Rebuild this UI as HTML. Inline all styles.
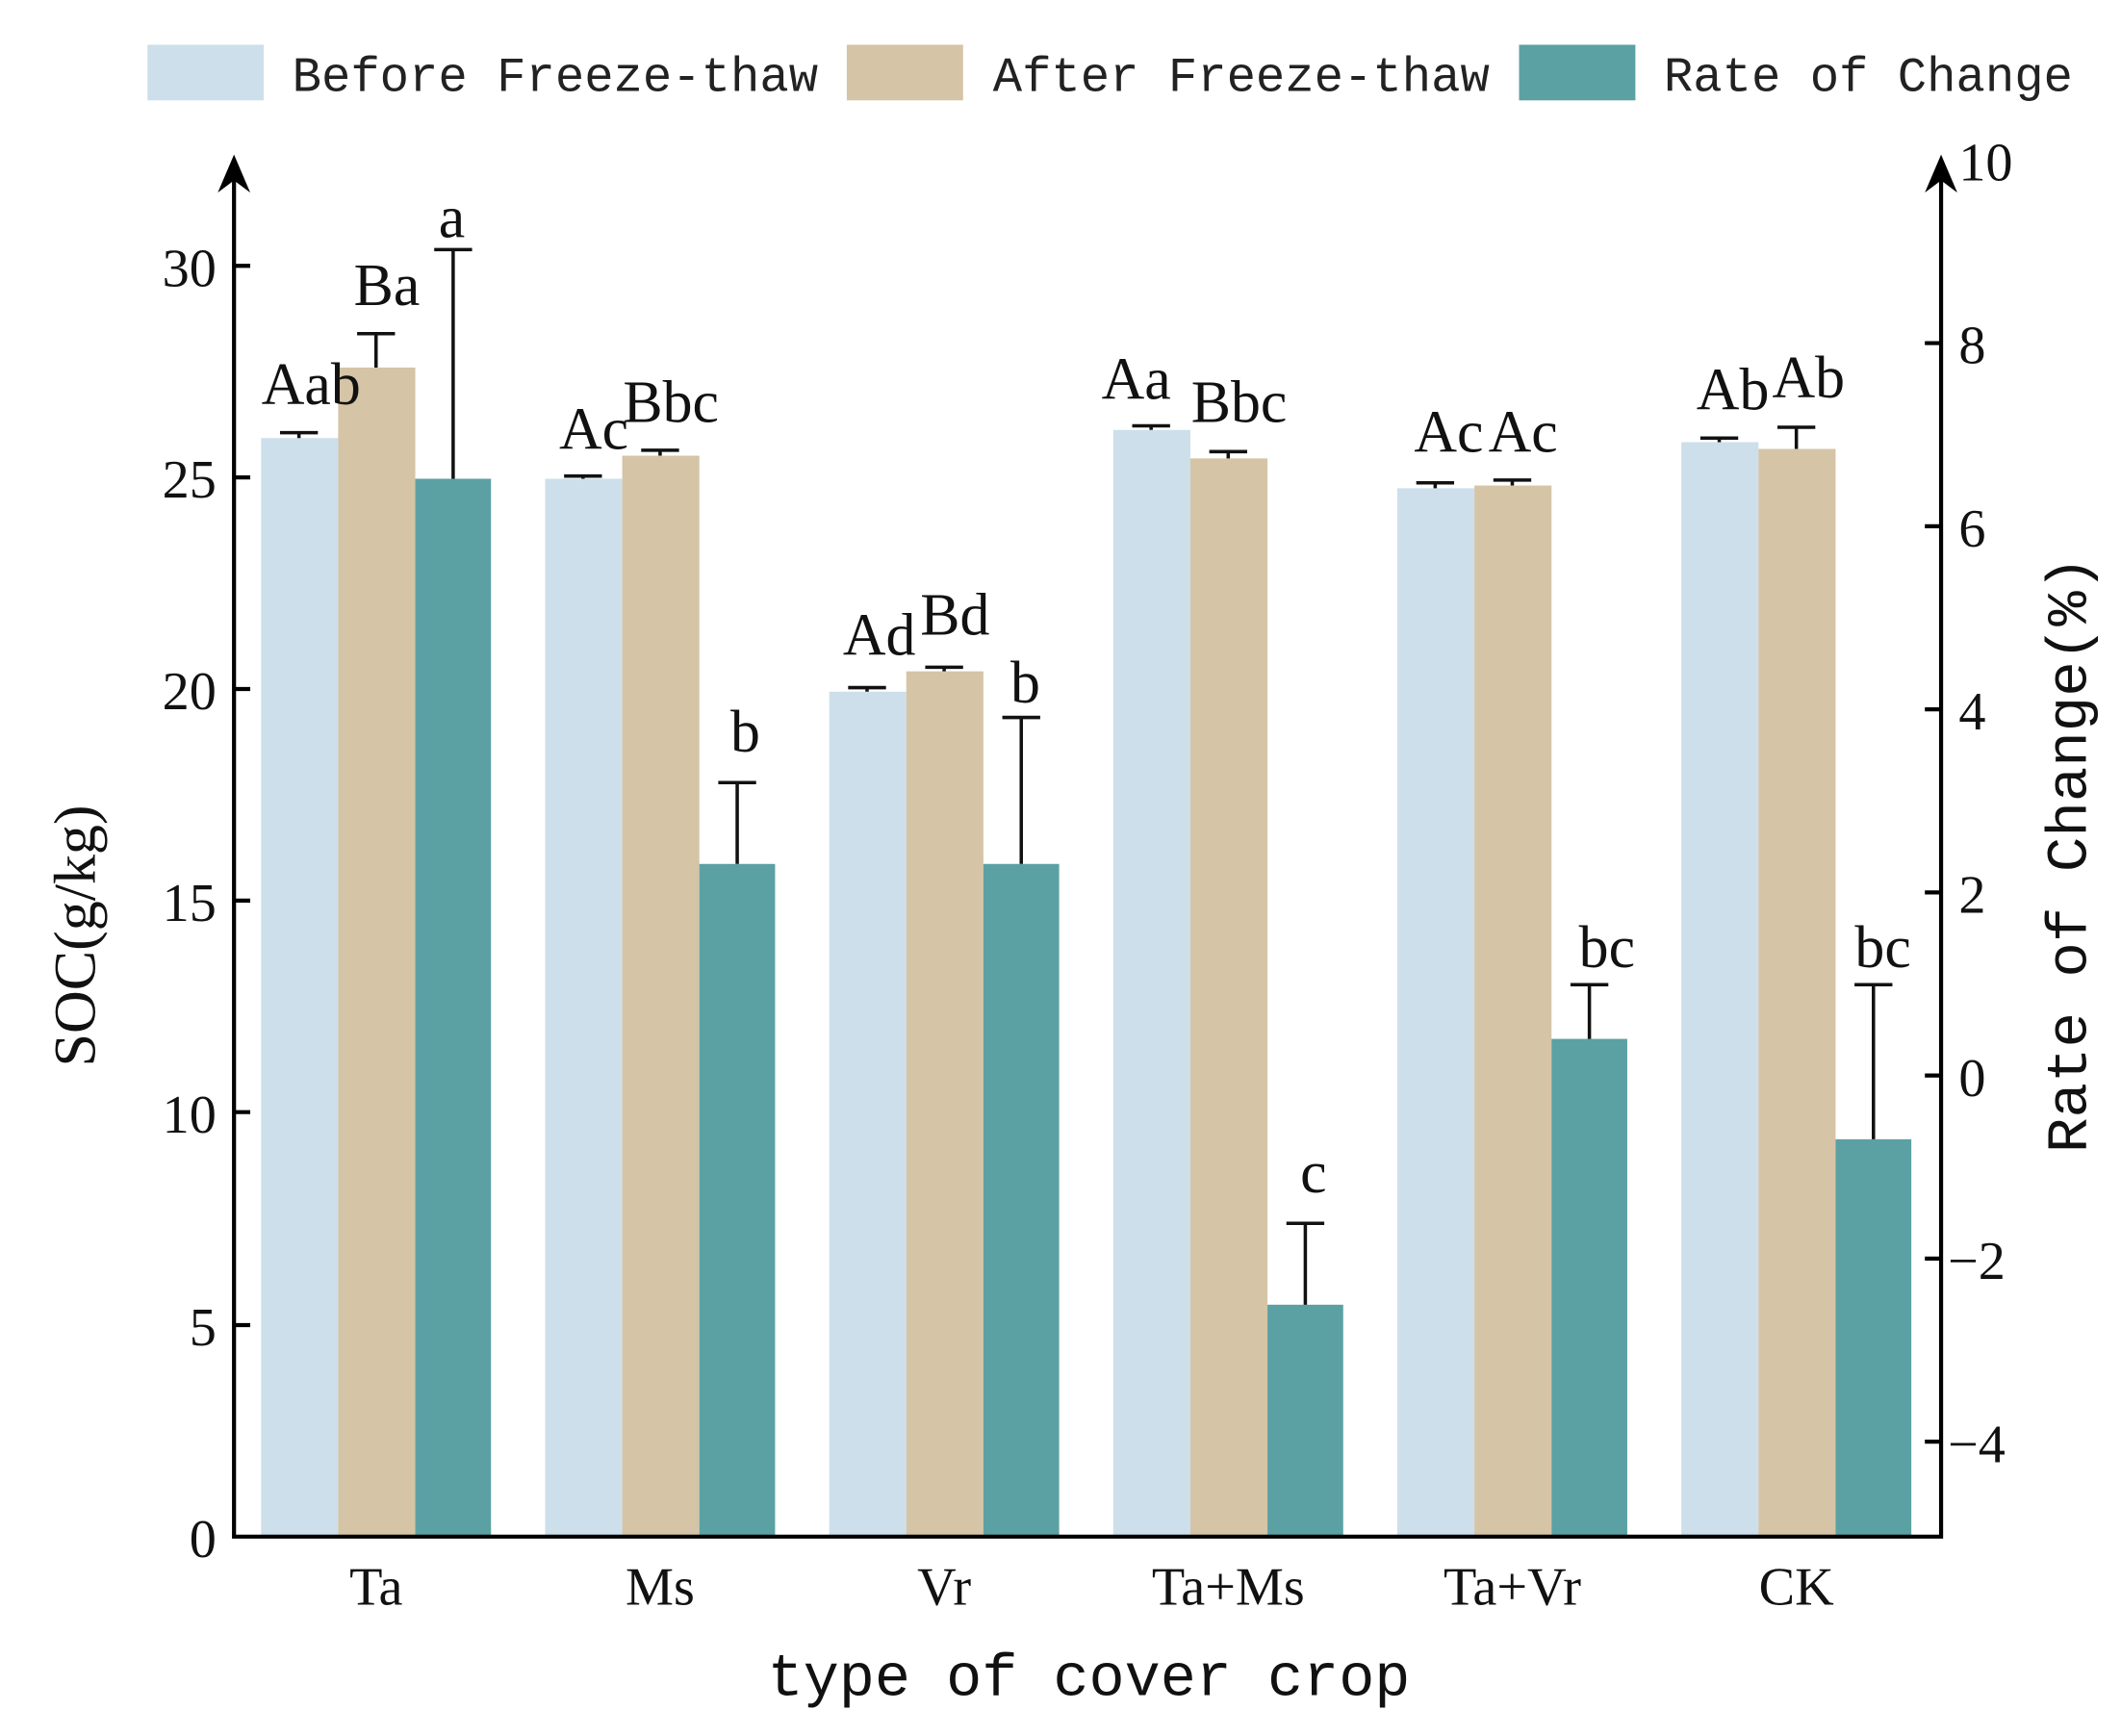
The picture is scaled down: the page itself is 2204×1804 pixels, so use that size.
<!DOCTYPE html>
<html><head><style>html,body{margin:0;padding:0;background:#fff}svg{display:block}</style></head>
<body>
<svg width="2204" height="1804" viewBox="0 0 1568 1280" preserveAspectRatio="none" xmlns="http://www.w3.org/2000/svg">
<rect width="1568" height="1280" fill="#fff"/>
<rect x="109" y="33" width="86" height="41" fill="#cddfea"/>
<rect x="626" y="33" width="86" height="41" fill="#d5c4a6"/>
<rect x="1123" y="33" width="86" height="41" fill="#5ba1a3"/>
<g font-family="Liberation Mono, monospace" font-size="36" fill="#222">
<text x="216" y="67">Before Freeze-thaw</text>
<text x="734" y="67">After Freeze-thaw</text>
<text x="1230" y="67">Rate of Change</text>
</g>
<g>
<rect x="193" y="323" width="57" height="810" fill="#cddfea"/>
<rect x="250" y="271" width="57" height="862" fill="#d5c4a6"/>
<rect x="307" y="353" width="56" height="780" fill="#5ba1a3"/>
<rect x="403" y="353" width="57" height="780" fill="#cddfea"/>
<rect x="460" y="336" width="57" height="797" fill="#d5c4a6"/>
<rect x="517" y="637" width="56" height="496" fill="#5ba1a3"/>
<rect x="613" y="510" width="57" height="623" fill="#cddfea"/>
<rect x="670" y="495" width="57" height="638" fill="#d5c4a6"/>
<rect x="727" y="637" width="56" height="496" fill="#5ba1a3"/>
<rect x="823" y="317" width="57" height="816" fill="#cddfea"/>
<rect x="880" y="338" width="57" height="795" fill="#d5c4a6"/>
<rect x="937" y="962" width="56" height="171" fill="#5ba1a3"/>
<rect x="1033" y="360" width="57" height="773" fill="#cddfea"/>
<rect x="1090" y="358" width="57" height="775" fill="#d5c4a6"/>
<rect x="1147" y="766" width="56" height="367" fill="#5ba1a3"/>
<rect x="1243" y="326" width="57" height="807" fill="#cddfea"/>
<rect x="1300" y="331" width="57" height="802" fill="#d5c4a6"/>
<rect x="1357" y="840" width="56" height="293" fill="#5ba1a3"/>
</g>
<g stroke="#111" stroke-width="2.5" fill="none">
<path d="M221 323V319M207 319H235"/>
<path d="M278 271V246M264 246H292"/>
<path d="M335 353V184M321 184H349"/>
<path d="M431 353V351M417 351H445"/>
<path d="M488 336V332M474 332H502"/>
<path d="M545 637V577M531 577H559"/>
<path d="M641 510V507M627 507H655"/>
<path d="M698 495V492M684 492H712"/>
<path d="M755 637V529M741 529H769"/>
<path d="M851 317V314M837 314H865"/>
<path d="M908 338V333M894 333H922"/>
<path d="M965 962V902M951 902H979"/>
<path d="M1061 360V356M1047 356H1075"/>
<path d="M1118 358V354M1104 354H1132"/>
<path d="M1175 766V726M1161 726H1189"/>
<path d="M1271 326V323M1257 323H1285"/>
<path d="M1328 331V315M1314 315H1342"/>
<path d="M1385 840V726M1371 726H1399"/>
</g>
<g font-family="Liberation Serif, serif" font-size="44" fill="#111" text-anchor="middle">
<text x="230" y="298">Aab</text><text x="286" y="225">Ba</text><text x="334" y="175">a</text>
<text x="439" y="331">Ac</text><text x="496" y="311">Bbc</text><text x="551" y="554">b</text>
<text x="650" y="483">Ad</text><text x="706" y="468">Bd</text><text x="758" y="518">b</text>
<text x="840" y="294">Aa</text><text x="916" y="311">Bbc</text><text x="971" y="879">c</text>
<text x="1071" y="333">Ac</text><text x="1126" y="333">Ac</text><text x="1188" y="713">bc</text>
<text x="1281" y="302">Ab</text><text x="1337" y="293">Ab</text><text x="1392" y="713">bc</text>
</g>
<g stroke="#000" stroke-width="3" fill="none">
<path d="M173 125V1133H1435V125"/>
<path d="M173 196h12M173 352h12M173 508h12M173 664h12M173 820h12M173 977h12"/>
<path d="M1435 253h-12M1435 388h-12M1435 523h-12M1435 658h-12M1435 793h-12M1435 928h-12M1435 1063h-12"/>
</g>
<path d="M173 114L161 142L173 133L185 142Z" fill="#000"/>
<path d="M1435 114L1423 142L1435 133L1447 142Z" fill="#000"/>
<g font-family="Liberation Serif, serif" font-size="40" fill="#111">
<g text-anchor="end">
<text x="160" y="211">30</text><text x="160" y="367">25</text><text x="160" y="523">20</text>
<text x="160" y="679">15</text><text x="160" y="835">10</text><text x="160" y="992">5</text><text x="160" y="1148">0</text>
</g>
<text x="1448" y="133">10</text><text x="1448" y="268">8</text><text x="1448" y="403">6</text>
<text x="1448" y="538">4</text><text x="1448" y="673">2</text><text x="1448" y="808">0</text>
<text x="1440" y="943">−2</text><text x="1440" y="1078">−4</text>
<g text-anchor="middle">
<text x="278" y="1183">Ta</text><text x="488" y="1183">Ms</text><text x="698" y="1183">Vr</text>
<text x="908" y="1183">Ta+Ms</text><text x="1118" y="1183">Ta+Vr</text><text x="1328" y="1183">CK</text>
</g>
</g>
<text x="805" y="1250" font-family="Liberation Mono, monospace" font-size="44" text-anchor="middle" fill="#111">type of cover crop</text>
<text transform="translate(70 690) rotate(-90)" font-family="Liberation Serif, serif" font-size="44" text-anchor="middle" fill="#111">SOC(g/kg)</text>
<text transform="translate(1542 630) rotate(-90)" font-family="Liberation Mono, monospace" font-size="42" text-anchor="middle" fill="#111" textLength="440" lengthAdjust="spacingAndGlyphs">Rate of Change(%)</text>
</svg>
</body></html>
